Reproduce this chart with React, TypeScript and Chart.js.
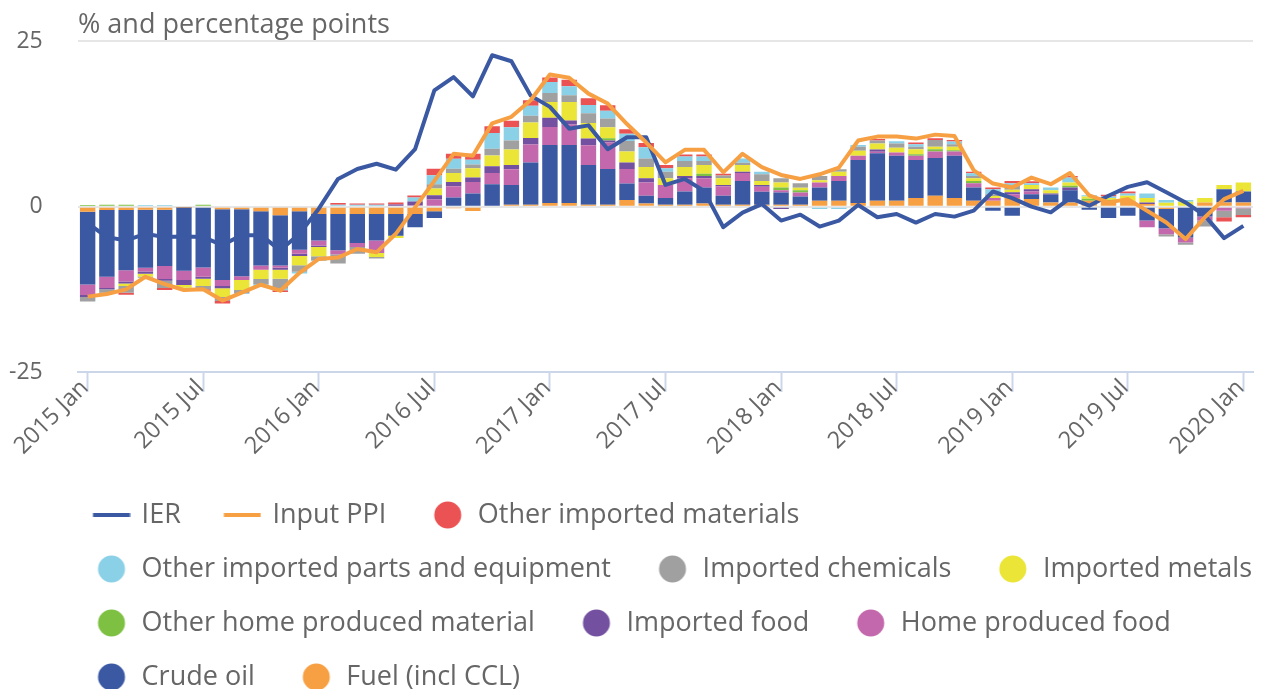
import React, { useEffect, useRef } from 'react';
import { Chart, registerables } from 'chart.js';

Chart.register(...registerables);

const FONT = "'Open Sans', sans-serif";
const TITLE = '% and percentage points';

const MONTHS = ['Jan', 'Feb', 'Mar', 'Apr', 'May', 'Jun', 'Jul', 'Aug', 'Sep', 'Oct', 'Nov', 'Dec'];
const YEARS = [2015, 2016, 2017, 2018, 2019, 2020];
const categories: string[] = [];
for (const y of YEARS) {
  for (const m of MONTHS) {
    if (y === 2020 && m !== 'Jan') break;
    categories.push(`${y} ${m}`);
  }
}

const Y_TICKS = [-25, 0, 25];

// Stacked contributions (percentage points)
const fuel = [-0.75, -0.5, -0.5, -0.45, -0.45, -0.1, 0, -0.4, -0.4, -0.7, -1.3, -0.7, -1.1, -1.1, -1.1, -1.1, -1.1, -1.1, -0.7, -0.25, -0.65, 0, 0.3, 0.3, 0.55, 0.55, 0.3, 0.3, 1.0, 0.5, 0.3, 0.3, 0.5, 0.3, 0.3, 0.3, 0.3, 0.3, 0.9, 0.9, 0.55, 0.9, 0.9, 1.3, 1.65, 1.3, 0.9, 0.9, 1.3, 1.15, 0.65, 0.65, 0.9, 0.8, 0.9, 0.4, -0.35, 0, 0.65, 0.65, 0.65];
const crudeOil = [-11, -10.1, -9.1, -8.8, -8.5, -9.6, -9.2, -10.7, -10.1, -8.2, -7.6, -5.8, -4.0, -5.5, -4.4, -4.0, -3.3, -2.0, -1.0, 1.4, 2.0, 3.4, 3.0, 6.4, 8.8, 8.8, 6.0, 5.4, 2.5, 1.15, 1.0, 2.0, 2.4, 1.35, 3.6, 1.95, 1.85, 1.25, 2.0, 3.0, 6.5, 7.2, 6.8, 5.75, 5.7, 6.4, 2.0, -0.6, -1.35, 0.75, 1.15, 1.85, -0.45, -1.7, -1.35, -2.1, -2.9, -4.65, -1.5, 2.0, 1.65];
const homeFood = [-1.6, -1.7, -1.7, -0.55, -2.0, -1.4, -1.4, -0.9, -0.6, -0.65, -0.35, -0.6, -0.75, -0.6, -0.6, -1.9, 0, 0.2, 1.1, 1.7, 1.75, 1.7, 2.35, 2.7, 2.7, 3.1, 3.0, 4.0, 2.2, 2.0, 2.0, 2.0, 1.4, 1.45, 1.2, 0.75, 0.35, 0.6, 0.75, 0.75, 0.65, 0.2, 0.5, 0.65, 1.0, 0.65, 0.65, 0.4, 0.6, 0.4, 0, 0, 0, 0, 0, -1.0, -0.9, -0.75, -0.6, -0.6, -0.25];
const importedFood = [-0.3, -0.2, -0.3, -0.35, -0.25, -0.75, -0.3, -0.35, 0, 0, -0.3, -0.35, -0.25, 0, 0, 0, 0.35, 0.6, 0.65, 0.65, 0.65, 1.0, 0.65, 1.0, 1.4, 0.6, 1.0, 0.3, 1.0, 0.65, 0, 0.35, 0.35, 0.2, 0.2, 0.3, -0.35, 0, 0, 0, 0, 0.35, 0, 0, 0, 0, 0, 0, 0.3, 0.35, 0.2, 0.4, 0, 0, 0, 0.25, 0, 0, 0, 0, 0];
const otherHome = [0.25, 0.3, 0.3, 0, 0, 0, 0.3, 0, 0, 0, 0, 0, 0, 0, 0, 0, 0, 0, 0, 0, 0, 0, 0, 0, 0, 0, 0, 0.35, 0, 0, 0, 0, 0.35, 0, 0, 0, 0.4, 0.35, 0, 0, 0, 0, 0, 0.25, 0.35, 0.2, 0.35, 0, 0, 0, 0, 0.25, 0.3, 0.25, 0, 0, 0, 0, 0, 0, 0];
const metals = [0, 0, -0.4, -0.4, 0, -0.4, -1.1, -1.3, -1.5, -1.4, -1.35, -1.4, -1.4, 0, 0, -0.6, -0.35, 0, 1.0, 1.35, 1.4, 1.65, 2.35, 2.35, 2.4, 2.8, 2.35, 1.65, 1.65, 1.7, 1.0, 1.35, 1.3, 1.0, 1.0, 0.6, 0.75, 0.35, 0.35, 0.65, 0.75, 0.9, 0.7, 0.75, 0.35, 0.5, 0.4, 0.3, 0.35, 0.65, 0.5, 0.5, 0.35, 0.25, 0.75, 0.65, 0.6, 0.75, 0.65, 0.65, 1.35];
const chemicals = [-0.7, -0.5, -1.0, -0.2, -1.1, 0, -0.5, -0.6, -0.5, -0.75, -1.5, -1.0, -0.6, -1.4, -1.0, -0.25, 0, 0, 0.65, 0.65, 0.6, 1.0, 1.35, 1.0, 1.35, 1.0, 1.5, 1.35, 1.6, 1.3, 1.0, 0.9, 0.6, 0.4, 0.35, 1.0, 0.65, 0.7, 0.65, 0.35, 0.6, 0.45, 0.65, 0.35, 1.05, 0.4, 0.35, 0.3, 0.65, 0, 0, 0, 0, 0, 0, 0, -0.35, -0.35, -0.9, -1.0, -1.0];
const partsEquipment = [0, 0, 0, 0.25, 0.25, -0.2, 0, 0, -0.1, -0.25, -0.25, -0.25, -0.1, 0.3, 0.3, 0.3, 0, 0.6, 1.35, 1.5, 0.7, 2.4, 2.0, 1.5, 1.65, 1.35, 1.25, 1.15, 1.1, 1.7, 0.5, 0.7, 0.7, 0, 0.65, 0.4, 0, 0, -0.35, -0.35, 0.3, 0, 0.35, 0.4, 0, 0.4, 0.4, 0.75, 0.35, 0.25, 0.4, 0.75, 0.2, 0.25, 0.35, 0.7, 0.4, 0.25, 0, 0, 0];
const otherImported = [0, -0.2, -0.3, 0, -0.3, 0, -0.2, -0.4, 0, 0, -0.25, 0, 0, 0.25, 0.2, 0.2, 0.3, 0.3, 1.0, 0.75, 0.9, 1.0, 1.0, 0.85, 0.7, 1.0, 1.0, 0.85, 0.65, 0.65, 0.5, 0.3, 0.3, 0.3, 0, 0, 0, 0, 0, 0, 0, 0.25, 0, 0.25, 0.25, 0.25, 0.25, 0.25, 0.35, 0.3, 0, 0.25, 0, 0.25, 0.3, 0, 0, 0, 0, -0.65, -0.35];

// Lines (%)
const ier = [-2.5, -4.6, -5.1, -4.1, -4.6, -4.5, -4.6, -5.8, -4.3, -4.3, -6.6, -4.1, -0.3, 4.2, 5.7, 6.5, 5.6, 8.7, 17.6, 19.6, 16.7, 22.9, 22.0, 16.8, 15.1, 11.8, 12.3, 8.7, 10.5, 10.5, 3.3, 4.2, 2.4, -3.1, -0.9, 0.4, -2.1, -1.2, -3.0, -2.1, 0.25, -1.6, -1.1, -2.4, -1.1, -1.5, -0.6, 2.3, 1.3, 0.0, -0.85, 1.3, 0.15, 1.65, 3.0, 3.7, 2.2, 0.65, -1.35, -4.75, -2.9];
const inputPpi = [-13.6, -13.2, -12.5, -10.6, -11.7, -12.6, -12.5, -14.2, -13.0, -11.8, -12.7, -10.0, -7.9, -7.7, -6.4, -6.9, -4.1, -0.1, 3.9, 8.0, 7.7, 12.6, 13.6, 16.1, 20.0, 19.5, 17.1, 15.6, 12.5, 9.7, 6.7, 8.6, 8.6, 5.2, 8.0, 6.0, 4.8, 4.2, 4.9, 5.9, 10.0, 10.6, 10.6, 10.3, 10.9, 10.7, 5.5, 3.5, 2.9, 4.4, 3.4, 5.1, 1.7, 0.65, 1.15, -0.6, -2.4, -4.9, -1.6, 1.15, 2.4];

// Stack order: first = closest to zero
const BAR_SERIES = [
  { label: 'Fuel (incl CCL)', data: fuel, color: '#F7A043' },
  { label: 'Crude oil', data: crudeOil, color: '#3B59A3' },
  { label: 'Home produced food', data: homeFood, color: '#C468AD' },
  { label: 'Imported food', data: importedFood, color: '#7350A0' },
  { label: 'Other home produced material', data: otherHome, color: '#7DC042' },
  { label: 'Imported metals', data: metals, color: '#EAE536' },
  { label: 'Imported chemicals', data: chemicals, color: '#A0A0A0' },
  { label: 'Other imported parts and equipment', data: partsEquipment, color: '#8AD0E6' },
  { label: 'Other imported materials', data: otherImported, color: '#EB5253' },
];
const LINE_SERIES = [
  { label: 'Input PPI', data: inputPpi, color: '#F7A043' },
  { label: 'IER', data: ier, color: '#3B59A3' },
];

const SYMBOL_SHIFT = 8.95;

function makeSymbol(kind: 'circle' | 'line', color: string): HTMLCanvasElement {
  const c = document.createElement('canvas');
  c.width = 56;
  c.height = 28;
  const ctx = c.getContext('2d')!;
  const cx = 28 + SYMBOL_SHIFT;
  const cy = 14;
  if (kind === 'circle') {
    ctx.fillStyle = color;
    ctx.beginPath();
    ctx.arc(cx, cy, 13.5, 0, Math.PI * 2);
    ctx.fill();
  } else {
    ctx.strokeStyle = color;
    ctx.lineWidth = 4;
    ctx.beginPath();
    ctx.moveTo(cx - 18.5, cy);
    ctx.lineTo(cx + 18.5, cy);
    ctx.stroke();
  }
  return c;
}

export default function App() {
  const ref = useRef<HTMLCanvasElement | null>(null);

  useEffect(() => {
    if (!ref.current) return;
    const symbols: HTMLCanvasElement[] = [
      ...BAR_SERIES.map((s) => makeSymbol('circle', s.color)),
      ...LINE_SERIES.map((s) => makeSymbol('line', s.color)),
    ];
    const datasets: any[] = [
      ...BAR_SERIES.map((s) => ({
        type: 'bar',
        label: s.label,
        data: s.data,
        backgroundColor: s.color,
        borderWidth: 0,
        barPercentage: 0.8,
        categoryPercentage: 1.0,
        order: 0,
      })),
      ...LINE_SERIES.map((s, i) => ({
        type: 'line',
        label: s.label,
        data: s.data,
        borderColor: s.color,
        backgroundColor: s.color,
        borderWidth: 4,
        pointRadius: 0,
        tension: 0,
        fill: false,
        borderJoinStyle: 'round',
        stack: 'line' + i,
        order: -1,
      })),
    ];
    const defaultGen = (Chart.defaults as any).plugins.legend.labels.generateLabels;
    const chart = new Chart(ref.current, {
      type: 'bar',
      data: { labels: categories, datasets },
      options: {
        animation: false,
        responsive: true,
        maintainAspectRatio: false,
        layout: { padding: { left: 50, right: -40, top: 0, bottom: -11.5 } },
        plugins: {
          title: {
            display: true,
            text: TITLE,
            align: 'start',
            fullSize: false,
            color: '#666666',
            font: { family: FONT, size: 27, weight: 'normal' },
            padding: { top: 9, bottom: 0 },
          },
          legend: {
            position: 'bottom',
            align: 'start',
            labels: {
              font: { family: FONT, size: 27 },
              color: '#666666',
              padding: 27,
              usePointStyle: true,
              pointStyleWidth: 51.1,
              generateLabels: (ch: any) => {
                const items = defaultGen(ch);
                items.forEach((it: any) => {
                  it.pointStyle = symbols[it.datasetIndex];
                });
                items.sort((a: any, b: any) => b.datasetIndex - a.datasetIndex);
                return items;
              },
            },
          },
          tooltip: { enabled: false },
        },
        scales: {
          x: {
            stacked: true,
            offset: true,
            grid: {
              display: true,
              drawOnChartArea: false,
              offset: false,
              tickLength: 20,
              tickWidth: 2,
              tickColor: (ctx: any) => (ctx.index % 6 === 0 ? '#ccd6eb' : 'rgba(0,0,0,0)'),
            },
            border: { color: '#ccd6eb', width: 2 },
            ticks: {
              autoSkip: false,
              maxRotation: 45,
              minRotation: 45,
              padding: -18,
              labelOffset: -3,
              color: '#666666',
              font: { family: FONT, size: 23.5 },
              callback: (_v: any, i: number) => (i % 6 === 0 ? categories[i] : ''),
            },
            afterFit: (axis: any) => {
              axis.height = 102.5;
              axis.paddingLeft = 0;
              axis.paddingRight = 10;
            },
          },
          y: {
            stacked: true,
            min: Y_TICKS[0],
            max: Y_TICKS[Y_TICKS.length - 1],
            afterBuildTicks: (axis: any) => {
              axis.ticks = Y_TICKS.map((v) => ({ value: v }));
            },
            ticks: {
              mirror: true,
              crossAlign: 'far',
              padding: -69,
              color: '#666666',
              font: { family: FONT, size: 23 },
            },
            grid: {
              drawTicks: false,
              lineWidth: 2,
              color: (ctx: any) => (ctx.tick && ctx.tick.value === -25 ? 'rgba(0,0,0,0)' : '#e6e6e6'),
            },
            border: { display: false },
            afterFit: (axis: any) => {
              axis.width = 28;
            },
          },
        },
      } as any,
    });
    return () => chart.destroy();
  }, []);

  return (
    <div style={{ position: 'absolute', left: 0, top: 0, width: 1263, height: 689 }}>
      <canvas ref={ref} />
    </div>
  );
}
